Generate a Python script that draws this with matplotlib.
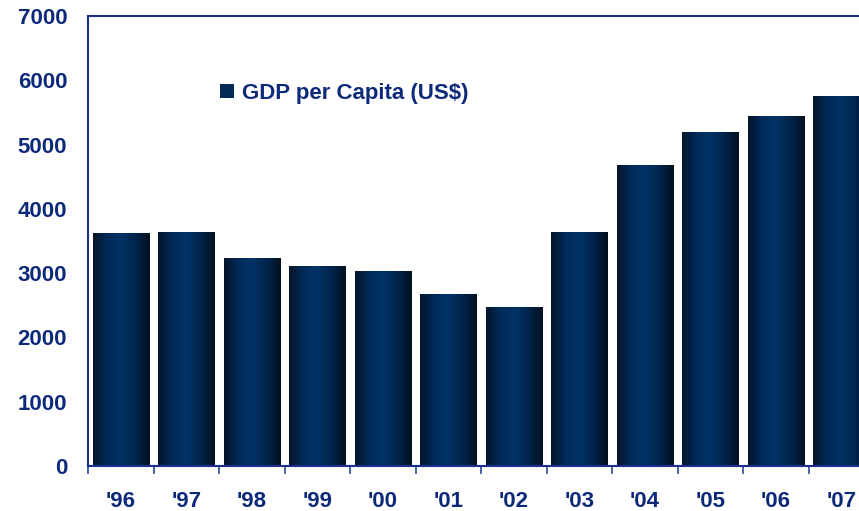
import numpy as np
import matplotlib.pyplot as plt
from matplotlib.colors import LinearSegmentedColormap
from matplotlib.patches import Patch

years = ["'96", "'97", "'98", "'99", "'00", "'01", "'02", "'03", "'04", "'05", "'06", "'07"]
gdp = [3610, 3640, 3220, 3110, 3030, 2660, 2460, 3640, 4680, 5180, 5440, 5740]

navy = '#0d2a7a'
plt.rcParams['font.family'] = ['Liberation Sans', 'DejaVu Sans']

# cylinder-like shading for the bars
cmap = LinearSegmentedColormap.from_list('bar', ['#051529', '#002a58', '#003366', '#00244b', '#03101f'])
grad = np.linspace(0, 1, 256).reshape(1, -1)

fig = plt.figure(figsize=(8.59, 5.11), dpi=100)
ax = fig.add_axes([88 / 859, 45 / 511, 786 / 859, 450 / 511])

x = np.arange(len(years))
width = 0.86
bars = ax.bar(x, gdp, width=width, color='none', edgecolor='none')
for b in bars:
    x0, y0 = b.get_x(), b.get_y()
    ax.imshow(grad, cmap=cmap, extent=(x0, x0 + b.get_width(), y0, y0 + b.get_height()),
              aspect='auto', zorder=2, interpolation='bilinear')

ax.set_xlim(-0.5, len(years) - 0.5)
ax.set_ylim(0, 7000)
ax.set_yticks(range(0, 7001, 1000))
ax.set_xticks(x)
ax.set_xticklabels(years)
ax.set_xticks(np.arange(-0.5, len(years)), minor=True)

ax.tick_params(axis='y', length=0, pad=15, labelsize=16, labelcolor=navy)
ax.tick_params(axis='x', which='major', length=0, pad=18, labelsize=16, labelcolor=navy)
ax.tick_params(axis='x', which='minor', length=6, width=1.2, color='#2a4a9a', direction='out')
for lab in ax.get_xticklabels() + ax.get_yticklabels():
    lab.set_fontweight('bold')

for side in ['left', 'top', 'bottom']:
    ax.spines[side].set_color('#1a2f8f')
    ax.spines[side].set_linewidth(1.5)
ax.spines['right'].set_visible(False)

ax.legend(handles=[Patch(facecolor='#022a55', edgecolor='none', label='GDP per Capita (US$)')],
          loc='center left', bbox_to_anchor=(0.143, 0.828), frameon=False,
          prop={'size': 16, 'weight': 'bold'}, labelcolor=navy,
          handlelength=0.6, handleheight=0.6, handletextpad=0.35)

fig.savefig('out.png', dpi=100)
